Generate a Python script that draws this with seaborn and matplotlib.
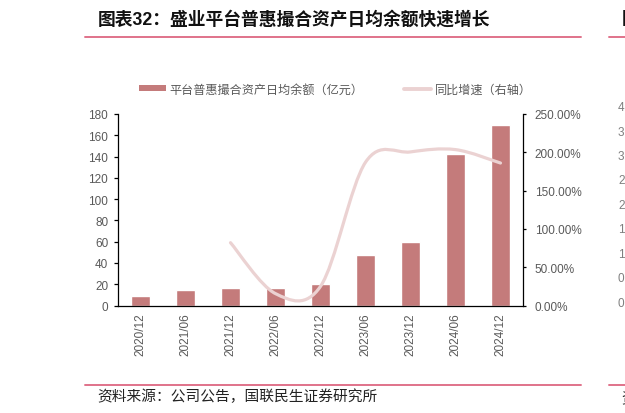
import numpy as np
import matplotlib
matplotlib.use("Agg")
import matplotlib.pyplot as plt
from matplotlib.lines import Line2D
from matplotlib.patches import Patch, PathPatch
from matplotlib.path import Path
import seaborn as sns

# data
periods = ['2020/12', '2021/06', '2021/12', '2022/06', '2022/12',
           '2023/06', '2023/12', '2024/06', '2024/12']
balance = [9, 14.5, 16.5, 16.5, 20, 47, 60, 142, 170]          # 亿元
growth_periods = ['2021/12', '2022/06', '2022/12', '2023/06',
                  '2023/12', '2024/06', '2024/12']
growth = [82, 15.5, 25, 187, 200.5, 203.5, 186]                 # %
left_ticks = [0, 20, 40, 60, 80, 100, 120, 140, 160, 180]
right_ticks = [0, 50, 100, 150, 200, 250]
side_digits = ['4', '3', '3', '2', '2', '1', '1', '0', '0']

title = '图表32：盛业平台普惠撮合资产日均余额快速增长'
bar_label = '平台普惠撮合资产日均余额（亿元）'
line_label = '同比增速（右轴）'
source = '资料来源：公司公告，国联民生证券研究所'

bar_color = '#C47B7B'
line_color = '#EBD2D2'
rule_color = '#E0728A'
tick_grey = '#595959'

sns.set_style('white')
plt.rcParams['font.family'] = ['Liberation Sans', 'Noto Sans CJK SC', 'DejaVu Sans']
cjk = ['Noto Sans CJK SC', 'DejaVu Sans']

W, H = 625, 414
fig = plt.figure(figsize=(W / 100, H / 100), dpi=100)
ax = fig.add_axes([118 / W, 1 - 306.5 / H, (523 - 118) / W, (306.5 - 115) / H])

sns.barplot(x=periods, y=balance, color=bar_color, saturation=1,
            width=0.41, ax=ax)
ax.set_xlim(-0.5, len(periods) - 0.5)
ax.set_ylim(0, 180)
ax.set_yticks(left_ticks)
ax.set_xlabel('')
ax.set_ylabel('')
ax.set_xticks(range(len(periods)))
ax.set_xticklabels(periods)
ax.set_xticks(np.arange(-0.5, len(periods), 1), minor=True)
ax.tick_params(axis='x', which='major', length=0, rotation=90, pad=5,
               labelsize=8.5, labelcolor=tick_grey)
ax.tick_params(axis='x', which='minor', length=3.5, width=0.9,
               direction='out', color='black')
ax.tick_params(axis='y', length=3, width=0.9, direction='out', left=True,
               color='black', labelsize=8.5, labelcolor=tick_grey, pad=4)
for s in ['top', 'right']:
    ax.spines[s].set_visible(False)
for s in ['left', 'bottom']:
    ax.spines[s].set_color('black')
    ax.spines[s].set_linewidth(0.9)

# right axis: smoothed growth line (Excel-style Catmull-Rom bezier)
ax2 = ax.twinx()
ax2.set_ylim(0, 250)
ax2.set_yticks(right_ticks)
ax2.set_yticklabels(['%.2f%%' % v for v in right_ticks])
ax2.tick_params(axis='y', length=2.5, width=0.9, direction='out', right=True,
                color='black', labelsize=8.5, labelcolor=tick_grey, pad=6)
for s in ['top', 'left', 'bottom']:
    ax2.spines[s].set_visible(False)
ax2.spines['right'].set_color('black')
ax2.spines['right'].set_linewidth(0.9)

gx = [periods.index(p) for p in growth_periods]
pts = np.column_stack([gx, growth]).astype(float)
verts = [pts[0]]
codes = [Path.MOVETO]
n = len(pts)
for i in range(n - 1):
    p0 = pts[max(i - 1, 0)]
    p1 = pts[i]
    p2 = pts[i + 1]
    p3 = pts[min(i + 2, n - 1)]
    verts += [p1 + (p2 - p0) / 6, p2 - (p3 - p1) / 6, p2]
    codes += [Path.CURVE4] * 3
ax2.add_patch(PathPatch(Path(verts, codes), fill=False, edgecolor=line_color,
                        lw=2.3, capstyle='round', joinstyle='round', zorder=3))

handles = [Patch(facecolor=bar_color, edgecolor='none'),
           Line2D([], [], color=line_color, lw=2.8)]
fig.legend(handles, [bar_label, line_label], loc='center left',
           bbox_to_anchor=(139 / W, 1 - 90 / H), ncol=2, frameon=False,
           borderpad=0, borderaxespad=0, handlelength=2.2, handleheight=0.45,
           handletextpad=0.3, columnspacing=3.4, labelcolor=tick_grey,
           prop={'family': cjk, 'size': 8.7})

# title, rules and source
fig.text(98 / W, 1 - 20 / H, title, fontsize=12.8, fontweight='bold',
         color='#111111', va='center', ha='left')
fig.add_artist(Line2D([85 / W, 581 / W], [1 - 38.3 / H] * 2, color=rule_color, lw=1.4))
fig.add_artist(Line2D([85 / W, 581 / W], [1 - 386 / H] * 2, color=rule_color, lw=1.4))
fig.text(97 / W, 1 - 397 / H, source, fontsize=10.6, color='#222222',
         va='center', ha='left', family=cjk)

# edge of the neighbouring panel
fig.add_artist(Line2D([609 / W, 1], [1 - 38.3 / H] * 2, color=rule_color, lw=1.4))
fig.add_artist(Line2D([609 / W, 1], [1 - 386 / H] * 2, color=rule_color, lw=1.4))
fig.text(621.5 / W, 1 - 19 / H, '图', fontsize=12.8, fontweight='bold',
         color='#111111', va='center', ha='left', family=cjk)
fig.text(621.5 / W, 1 - 398 / H, '资', fontsize=10.6, color='#222222',
         va='center', ha='left', family=cjk)
for k, d in enumerate(side_digits):
    fig.text(618 / W, 1 - (108 + 24.5 * k) / H, d, fontsize=8.5,
             color='#7F7F7F', va='center', ha='left')

fig.savefig('out.png', dpi=100)
